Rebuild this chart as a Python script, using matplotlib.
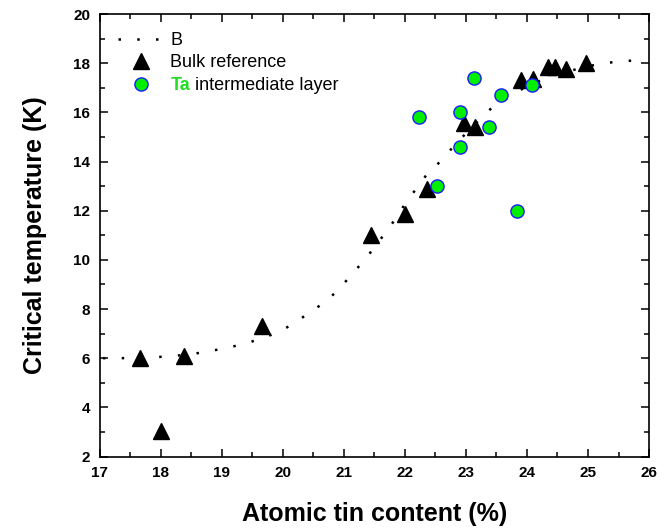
import matplotlib
matplotlib.use("Agg")
import matplotlib.pyplot as plt
from matplotlib.ticker import MultipleLocator

plt.rcParams['font.family'] = ['Liberation Sans', 'DejaVu Sans']

# Bulk reference (triangles)
bulk_x = [17.65, 18.0, 18.38, 19.65, 21.44, 22.0, 22.36, 22.97, 23.14,
          23.9, 24.1, 24.35, 24.46, 24.64, 24.97]
bulk_tc = [6.0, 3.05, 6.1, 7.3, 11.0, 11.85, 12.9, 15.55, 15.4,
           17.3, 17.35, 17.85, 17.85, 17.75, 18.0]

# Ta intermediate layer (circles)
ta_x = [22.23, 22.53, 22.9, 22.9, 23.13, 23.38, 23.57, 23.84, 24.09]
ta_tc = [15.8, 13.0, 16.0, 14.6, 17.4, 15.4, 16.7, 12.0, 17.1]

# fit curve "B"
fit_x = [17.05, 17.35, 17.96, 18.25, 18.54, 18.83, 19.12, 19.42, 19.69, 19.96,
         20.2, 20.45, 20.69, 20.91, 21.1, 21.29, 21.48, 21.66, 21.84, 22.0,
         22.18, 22.36, 22.6, 22.79, 22.99, 23.2, 23.4, 23.65, 23.88, 24.15,
         24.44, 24.8, 25.05, 25.33, 25.63, 25.92]
fit_tc = [6.0, 6.0, 6.05, 6.1, 6.18, 6.3, 6.44, 6.62, 6.84, 7.09,
          7.46, 7.87, 8.29, 8.78, 9.33, 9.86, 10.44, 11.04, 11.65, 12.27,
          12.88, 13.48, 14.05, 14.6, 15.12, 15.65, 16.13, 16.55, 16.9, 17.22,
          17.5, 17.75, 17.9, 18.02, 18.09, 18.14]

fig = plt.figure(figsize=(6.66, 5.29), dpi=100)
ax = fig.add_axes([0.150, 0.137, 0.8245, 0.8365])

ax.plot(fit_x, fit_tc, color='black', lw=1.8, linestyle=(0, (1, 6.5)),
        label='B')
ax.plot(bulk_x, bulk_tc, linestyle='none', marker='^', ms=11.5,
        color='black', label='Bulk reference')
ax.plot(ta_x, ta_tc, linestyle='none', marker='o', ms=9.5,
        markerfacecolor='#00ee00', markeredgecolor='#1a1aff', mew=1,
        label='Ta')

ax.set_xlim(17, 26)
ax.set_ylim(2, 20)
ax.xaxis.set_major_locator(MultipleLocator(1))
ax.xaxis.set_minor_locator(MultipleLocator(0.5))
ax.yaxis.set_major_locator(MultipleLocator(2))
ax.yaxis.set_minor_locator(MultipleLocator(1))
ax.tick_params(which='both', direction='in', top=True, right=True, width=1.1)
ax.tick_params(which='major', length=6, labelsize=11, pad=7)
ax.tick_params(which='minor', length=3.5)
for lab in ax.get_xticklabels() + ax.get_yticklabels():
    lab.set_fontweight('bold')
for sp in ax.spines.values():
    sp.set_linewidth(1.2)

ax.set_xlabel('Atomic tin content (%)', fontsize=18, fontweight='bold',
              labelpad=16)
ax.set_ylabel('Critical temperature (K)', fontsize=18, fontweight='bold',
              labelpad=19)

leg = ax.legend(loc='upper left', frameon=False, fontsize=13,
                handlelength=2.6, handletextpad=0.3, labelspacing=0.3,
                borderaxespad=0.6, bbox_to_anchor=(0.0, 1.0))
ta_text = leg.get_texts()[2]
ta_text.set_color('#22dd22')
ta_text.set_fontweight('bold')

# rest of the label in black, placed right after the green "Ta"
fig.canvas.draw()
bb = ta_text.get_window_extent()
fig.text(bb.x1 / fig.bbox.width, bb.y0 / fig.bbox.height,
         ' intermediate layer', ha='left', va='bottom', fontsize=13)

fig.savefig('out.png', dpi=100)
